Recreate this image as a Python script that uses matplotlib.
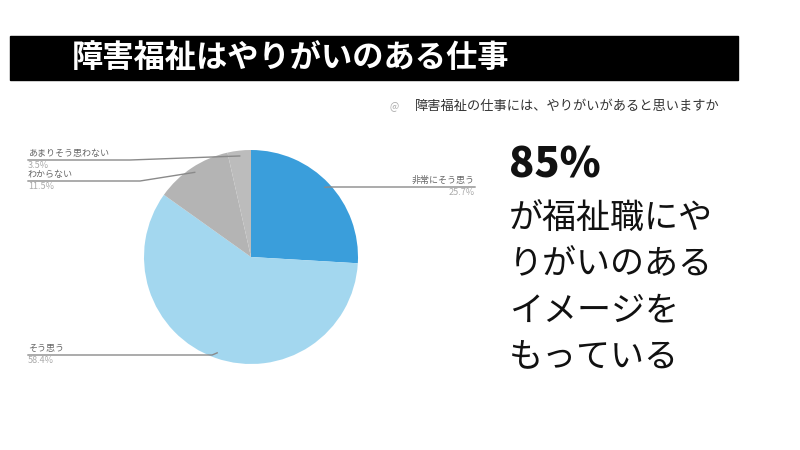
import numpy as np
import matplotlib.pyplot as plt
from matplotlib.patches import Rectangle

plt.rcParams['font.family'] = ['Noto Sans CJK JP', 'DejaVu Sans']

# survey answers, clockwise from 12 o'clock
labels = ['非常にそう思う', 'そう思う', 'わからない', 'あまりそう思わない']
values = [25.7, 58.4, 11.5, 3.5]
colors = ['#3a9edb', '#a3d7ef', '#b4b4b4', '#bcbcbc']

title = '障害福祉はやりがいのある仕事'
question = '障害福祉の仕事には、やりがいがあると思いますか'
headline = '85%'
body_lines = ['が福祉職にや', 'りがいのある', 'イメージを', 'もっている']

W, H = 800, 450


def Y(y):
    # pixel row (from top) -> axes y
    return H - y


fig = plt.figure(figsize=(8, 4.5), dpi=100)
ax = fig.add_axes([0, 0, 1, 1])

# title bar
ax.add_patch(Rectangle((10, Y(80)), 728, 44, color='black'))
ax.text(72, Y(58), title, color='white', fontsize=22.5, fontweight='bold',
        va='center', ha='left')

# question line
ax.text(390, Y(106), '@', color='#aaaaaa', fontsize=7, va='center')
ax.text(415, Y(106), question, color='#333333', fontsize=9.5, va='center')

# pie
cx, cy, R = 251, Y(257), 107
ax.pie(values, colors=colors, startangle=90, counterclock=False,
       center=(cx, cy), radius=R, frame=True)
ax.set_xlim(0, W)
ax.set_ylim(0, H)
ax.set_aspect('equal')
ax.axis('off')

# leader lines and labels
fracs = np.array(values) / sum(values)
ends = np.cumsum(fracs)
mids = 90 - 360 * (ends - fracs / 2)

# (label x, underline y, side, elbow x)
label_pos = [
    (475, 187, 'right', None),
    (28, 355, 'left', None),
    (28, 181, 'left', 140),
    (28, 160, 'left', 130),
]

for lab, val, mid, (lx, ly, side, elbow) in zip(labels, values, mids, label_pos):
    a = np.radians(mid)
    px = cx + 0.95 * R * np.cos(a)
    py = cy + 0.95 * R * np.sin(a)
    if elbow is None:
        xs = [px, px + (5 if side == 'right' else -5), lx]
    else:
        xs = [px, elbow, lx]
    ys = [py, Y(ly), Y(ly)]
    ax.plot(xs, ys, color='#8a8a8a', lw=1)
    ha = 'right' if side == 'right' else 'left'
    ax.text(lx, Y(ly) + 2, lab, color='#666666', fontsize=6.5, ha=ha, va='bottom')
    ax.text(lx, Y(ly) - 1, f'{val}%', color='#aaaaaa', fontsize=6.5, ha=ha, va='top')

# headline text on the right
ax.text(509, Y(166), headline, color='#111111', fontsize=30, fontweight='black',
        ha='left', va='center')
for i, line in enumerate(body_lines):
    ax.text(509, Y(219 + 46 * i), line, color='#111111', fontsize=24.5,
            ha='left', va='center')

fig.savefig('out.png', dpi=100, facecolor='white')
